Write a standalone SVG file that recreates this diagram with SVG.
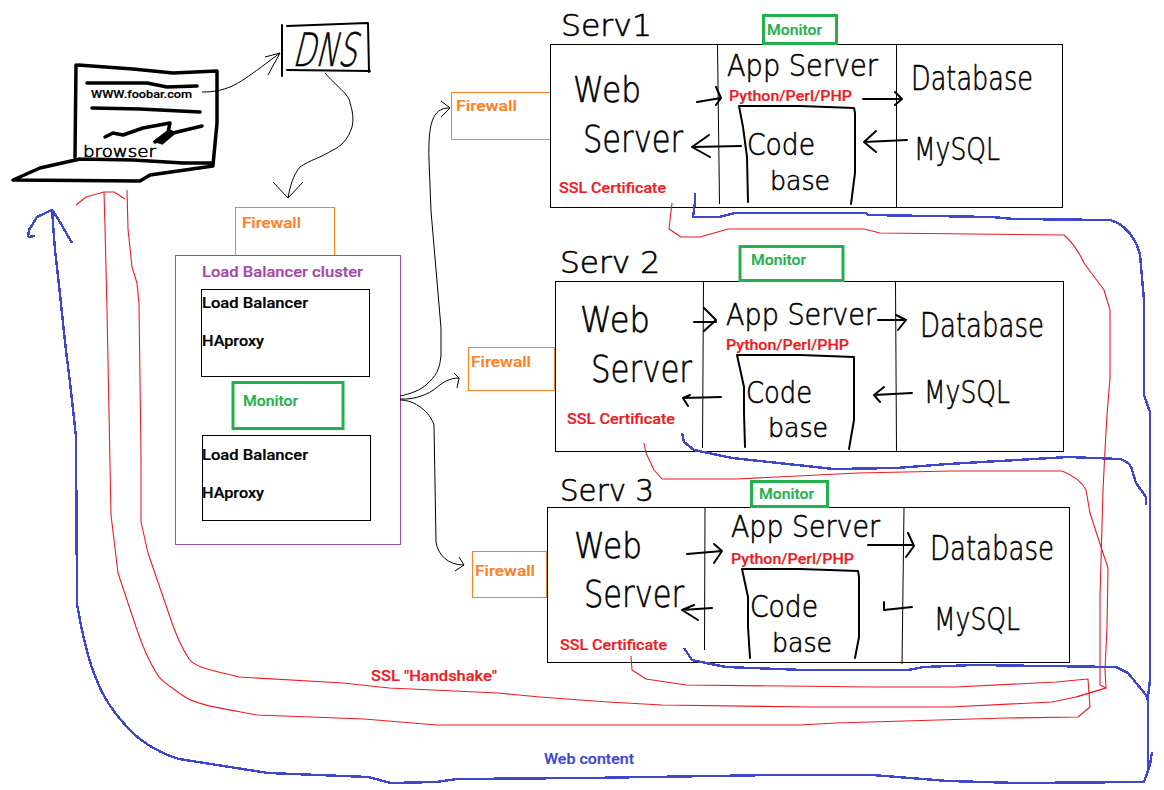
<svg xmlns="http://www.w3.org/2000/svg" width="1164" height="790" viewBox="0 0 1164 790">
<style>
.bx{fill:none;stroke:#000;stroke-width:1}
.fw{fill:none;stroke:#ff7f27;stroke-width:1}
.mo{fill:none;stroke:#22b14c;stroke-width:3}
.cl{fill:none;stroke:#a349a4;stroke-width:1}
.t{font-family:"Roboto","Liberation Sans",sans-serif;font-weight:500;font-size:14px;stroke-width:.2}
.o{fill:#ff7f27;stroke:#ff7f27}.g{fill:#22b14c;stroke:#22b14c}.r{fill:#ed1c24;stroke:#ed1c24}.p{fill:#a349a4;stroke:#a349a4}.b{fill:#3f48cc;stroke:#3f48cc}.k{fill:#000;stroke:#000}
.h{font-family:"DejaVu Sans","Liberation Sans",sans-serif;font-weight:200;fill:#000;stroke:#000;stroke-width:.6}
.ink{fill:none;stroke:#000;stroke-width:2;stroke-linecap:round;stroke-linejoin:round}
.thick{fill:none;stroke:#000;stroke-width:3.5;stroke-linecap:round;stroke-linejoin:round}
.thin{fill:none;stroke:#000;stroke-width:1;stroke-linejoin:round}
.red{fill:none;stroke:#ed1c24;stroke-width:1.1;stroke-linejoin:round}
.blue{fill:none;stroke:#3f48cc;stroke-width:2.4;stroke-linejoin:round;shape-rendering:crispEdges}
</style>
<g id="laptop">
<path class="thick" d="M76 65L75 157M78 65L133 69L173 73L217 71L217 123L213 165M80 159L133 160L183 163L213 163M80 159L40 168L13 180L140 181L150 175L213 166"/>
<path class="thick" d="M87 83L147 83L167 87L197 86M92 108L140 109L200 112M105 137L113 133L123 135L143 128L170 123L168 132L155 142L173 133L202 126"/>
<path d="M156 141L170 131L174 133L162 143Z" fill="#000" stroke="#000" stroke-width="3"/>
<text class="t k" x="91" y="98" style="font-size:11.500px" textLength="101" lengthAdjust="spacingAndGlyphs">WWW.foobar.com</text>
<text class="h" x="83" y="157" font-size="15" textLength="73" lengthAdjust="spacingAndGlyphs">browser</text>
</g>
<g id="dns">
<path class="ink" d="M282 25L282 76M287 26L367 23M368 23L369 72M287 70L370 71"/>
<text class="h" transform="translate(292 66) skewX(-14)" x="0" y="0" font-size="46" textLength="64" lengthAdjust="spacingAndGlyphs">DNS</text>
</g>
<g id="firewall-lb">
<rect class="fw" x="235.500" y="207.500" width="99" height="48"/>
<text class="t o" x="242" y="228" textLength="59" lengthAdjust="spacingAndGlyphs">Firewall</text>
</g>
<g id="lb-cluster">
<rect class="cl" x="175.500" y="255.500" width="225" height="289"/>
<text class="t p" x="202" y="277" textLength="161" lengthAdjust="spacingAndGlyphs">Load Balancer cluster</text>
</g>
<g id="lb1">
<rect class="bx" x="201.500" y="289.500" width="168" height="87"/>
<text class="t k" x="202" y="308" textLength="106" lengthAdjust="spacingAndGlyphs">Load Balancer</text>
<text class="t k" x="202" y="346" textLength="62" lengthAdjust="spacingAndGlyphs">HAproxy</text>
</g>
<g id="monitor-lb">
<rect class="mo" x="233" y="382.500" width="110" height="46"/>
<text class="t g" x="243" y="406" textLength="55" lengthAdjust="spacingAndGlyphs">Monitor</text>
</g>
<g id="lb2">
<rect class="bx" x="202.500" y="435.500" width="168" height="85"/>
<text class="t k" x="202" y="460" textLength="106" lengthAdjust="spacingAndGlyphs">Load Balancer</text>
<text class="t k" x="202" y="498" textLength="62" lengthAdjust="spacingAndGlyphs">HAproxy</text>
</g>
<g id="firewall-1">
<rect class="fw" x="451.500" y="92.500" width="99" height="47"/>
<text class="t o" x="456" y="111" textLength="61" lengthAdjust="spacingAndGlyphs">Firewall</text>
</g>
<g id="firewall-2">
<rect class="fw" x="468.500" y="347.500" width="86" height="43"/>
<text class="t o" x="471" y="367" textLength="60" lengthAdjust="spacingAndGlyphs">Firewall</text>
</g>
<g id="firewall-3">
<rect class="fw" x="472.500" y="551.500" width="74" height="46"/>
<text class="t o" x="475" y="576" textLength="60" lengthAdjust="spacingAndGlyphs">Firewall</text>
</g>
<g id="serv1">
<text class="h" x="561" y="36" font-size="30" textLength="91" lengthAdjust="spacingAndGlyphs">Serv1</text>
<rect class="bx" x="550.500" y="44.500" width="512" height="163"/>
<path class="thin" d="M717.500 44L719.500 204M896.500 44L896.500 208"/>
<rect class="mo" x="763.500" y="15.500" width="73" height="28"/>
<text class="t g" x="767" y="35" textLength="55" lengthAdjust="spacingAndGlyphs">Monitor</text>
<text class="h" x="573" y="102" font-size="36" textLength="68" lengthAdjust="spacingAndGlyphs">Web</text>
<text class="h" x="583" y="152" font-size="38" textLength="100" lengthAdjust="spacingAndGlyphs">Server</text>
<text class="h" x="727" y="76" font-size="30" textLength="151" lengthAdjust="spacingAndGlyphs">App Server</text>
<text class="h" x="911" y="90" font-size="34" textLength="122" lengthAdjust="spacingAndGlyphs">Database</text>
<text class="h" x="914" y="160" font-size="32" textLength="86" lengthAdjust="spacingAndGlyphs">MySQL</text>
<text class="h" x="747" y="155" font-size="30" textLength="68" lengthAdjust="spacingAndGlyphs">Code</text>
<text class="h" x="770" y="190" font-size="26" textLength="60" lengthAdjust="spacingAndGlyphs">base</text>
<path class="ink" d="M739 106L743 127L747 157L748 202M739 106L800 106L854 108L855 113L855 173L851 204"/>
<text class="t r" x="729" y="101" textLength="123" lengthAdjust="spacingAndGlyphs">Python/Perl/PHP</text>
<text class="t r" x="559" y="193" textLength="107" lengthAdjust="spacingAndGlyphs">SSL Certificate</text>
</g>
<g id="serv2">
<text class="h" x="560" y="273" font-size="30" textLength="100" lengthAdjust="spacingAndGlyphs">Serv 2</text>
<rect class="bx" x="555.500" y="281.500" width="508" height="170"/>
<path class="thin" d="M703.500 282L702.500 448M895.500 282L896.500 451"/>
<rect class="mo" x="740" y="246.500" width="103" height="34"/>
<text class="t g" x="751" y="265" textLength="55" lengthAdjust="spacingAndGlyphs">Monitor</text>
<text class="h" x="580" y="332" font-size="36" textLength="70" lengthAdjust="spacingAndGlyphs">Web</text>
<text class="h" x="591" y="382" font-size="38" textLength="101" lengthAdjust="spacingAndGlyphs">Server</text>
<text class="h" x="726" y="325" font-size="30" textLength="150" lengthAdjust="spacingAndGlyphs">App Server</text>
<text class="h" x="920" y="337" font-size="34" textLength="124" lengthAdjust="spacingAndGlyphs">Database</text>
<text class="h" x="924" y="403" font-size="32" textLength="86" lengthAdjust="spacingAndGlyphs">MySQL</text>
<text class="h" x="746" y="403" font-size="30" textLength="66" lengthAdjust="spacingAndGlyphs">Code</text>
<text class="h" x="768" y="437" font-size="26" textLength="60" lengthAdjust="spacingAndGlyphs">base</text>
<path class="ink" d="M737 355L744 387L744 413L745 447M737 355L800 355L854 357L854 363L854 420L849 449"/>
<text class="t r" x="726" y="350" textLength="123" lengthAdjust="spacingAndGlyphs">Python/Perl/PHP</text>
<text class="t r" x="567" y="424" textLength="108" lengthAdjust="spacingAndGlyphs">SSL Certificate</text>
</g>
<g id="serv3">
<text class="h" x="560" y="501" font-size="30" textLength="94" lengthAdjust="spacingAndGlyphs">Serv 3</text>
<rect class="bx" x="547.500" y="507.500" width="522" height="155"/>
<path class="thin" d="M705 508L704.500 650M904 508L902 664"/>
<rect class="mo" x="751.500" y="481.500" width="76" height="25"/>
<text class="t g" x="759" y="499" textLength="55" lengthAdjust="spacingAndGlyphs">Monitor</text>
<text class="h" x="574" y="558" font-size="36" textLength="68" lengthAdjust="spacingAndGlyphs">Web</text>
<text class="h" x="584" y="607" font-size="38" textLength="100" lengthAdjust="spacingAndGlyphs">Server</text>
<text class="h" x="731" y="537" font-size="30" textLength="149" lengthAdjust="spacingAndGlyphs">App Server</text>
<text class="h" x="930" y="560" font-size="34" textLength="124" lengthAdjust="spacingAndGlyphs">Database</text>
<text class="h" x="934" y="630" font-size="32" textLength="86" lengthAdjust="spacingAndGlyphs">MySQL</text>
<text class="h" x="750" y="617" font-size="30" textLength="68" lengthAdjust="spacingAndGlyphs">Code</text>
<text class="h" x="772" y="652" font-size="26" textLength="60" lengthAdjust="spacingAndGlyphs">base</text>
<path class="ink" d="M742 569L748 597L748 627L750 658M742 569L800 569L858 571L859 577L859 637L855 658"/>
<text class="t r" x="731" y="564" textLength="123" lengthAdjust="spacingAndGlyphs">Python/Perl/PHP</text>
<text class="t r" x="560" y="650" textLength="107" lengthAdjust="spacingAndGlyphs">SSL Certificate</text>
</g>
<g id="connectors">
<path class="thin" d="M202 92C215 92 222 90 230 87C240 83 250 75 260 68L280 53M265 57L280 53L268 75"/>
<path class="thin" d="M325 73C335 85 350 95 350 103C354 115 353 122 352 127C348 140 340 147 333 150C320 158 310 160 300 167C293 175 290 187 288 198M273 182L288 198L303 182"/>
<path class="thin" d="M400 396C410 394 421 390 427 384C435 377 440 370 441 355L441 328L431 211L429 160C428 125 432 108 449 108M441 101L450 108L441 117"/>
<path class="thin" d="M400 399C415 400 429 394 436 388C443 382 450 378 459 378M454 373L459 378L457 388"/>
<path class="thin" d="M400 400C415 400 430 412 434 425L436 542C438 555 448 565 464 565M459 557L464 565L455 571"/>
<path class="ink" d="M697 102L721 98M716 87L721 98L716 105M863 99L902 99M895 92L902 99L895 105M741 146L692 147M709 135L692 147L710 157M907 140L864 142M876 131L864 142L876 152"/>
<path class="ink" d="M694 322L716 322M704 308L716 320L704 331M878 320L906 320M896 315L906 320L898 330M721 397L683 398M690 395L683 398L688 406M912 393L874 395M884 387L874 395L880 402"/>
<path class="ink" d="M687 554L722 551M714 544L722 551L714 563M868 545L912 545M908 533L914 546L906 557M712 608L682 610M694 605L682 610L698 620M912 607L884 610M884 602L884 610"/>
<path class="red" d="M672 203L669 229L681 237L700 237L728 229L864 229L880 233L1064 235C1072 242 1078 250 1084 263L1104 290L1110 310L1110 378L1107 415L1105 450L1103 490L1100 597L1100 685L1106 688L1076 697"/>
<path class="red" d="M644 443L646 453L654 470L662 479L736 479L858 473L952 471L1062 471C1072 475 1082 482 1086 490L1090 513L1102 550L1108 568L1107 627L1105 670L1106 688L1076 697L1052 702L950 707L812 707L662 705L608 702L540 697L498 693L389 688L343 683L239 677C212 670 196 668 189 659C180 645 176 635 171 620L148 553L141 522L141 456L139 304L137 283L132 267L128 229L127 190"/>
<path class="red" d="M631 656L632 670L646 679L686 685L874 687L956 687L1056 682L1088 679L1090 707L1078 717L1006 718L836 723L800 725L540 725L437 725L364 719L257 715C220 708 195 705 182 695C168 685 160 680 157 674C148 660 142 645 136 627L118 573L111 515L107 310L105 227L104 192M76 205L86 197L104 192L114 192L125 199"/>
<path class="blue" d="M695 193L695 202L693 217L719 217L735 213L866 213L868 215L992 217L1014 219L1110 220C1125 224 1136 238 1140 255L1144 300L1144 395L1150 412L1150 680L1148 697L1148 770M1152 752L1150 765L1144 782L1018 783L948 781L872 775L774 775L586 778L457 779L436 782L391 783L368 777L268 773L179 759C165 755 145 745 132 732C115 715 102 695 96 678C90 665 82 635 77 604L76 437L70 382L66 351L59 285L55 250L52 210M28 237L29 230L37 217L52 210L57 217L72 243M28 237L35 236"/>
<path class="blue" d="M682 433L684 442L694 450L732 458L834 469L896 468L948 464L1034 459L1068 457L1120 459C1128 461 1132 467 1132 470L1136 483L1146 497L1146 505"/>
<path class="blue" d="M684 648L692 660L706 663L726 667L804 670L908 670L924 667L974 665L1116 667L1128 673L1146 695L1148 700"/>
</g>
<g id="labels">
<text class="t r" x="371" y="681" textLength="126" lengthAdjust="spacingAndGlyphs">SSL "Handshake"</text>
<text class="t b" x="544" y="764" textLength="90" lengthAdjust="spacingAndGlyphs">Web content</text>
</g>
</svg>
